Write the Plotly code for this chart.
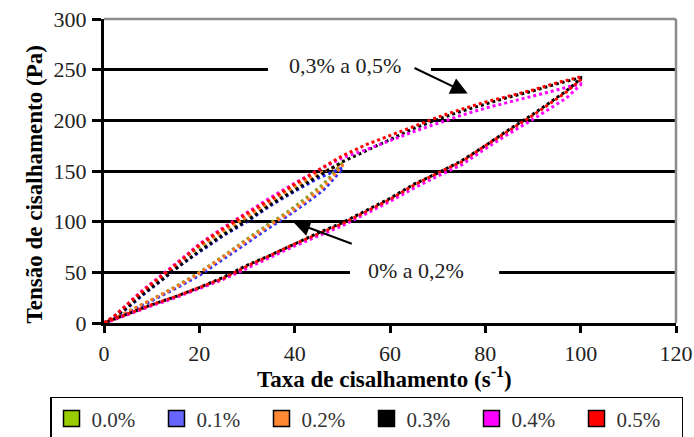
import plotly.graph_objects as go

# ---- data ----
series_names = ["0.0%", "0.1%", "0.2%", "0.3%", "0.4%", "0.5%"]
line_colors = ["#8f9f2a", "#2a2aff", "#ff7722", "#000000", "#ff00ff", "#ff0000"]
legend_colors = ["#99cc00", "#6666ff", "#ff8833", "#000000", "#ff00ff", "#ff0000"]

# low-concentration group (0% to 0.2%): ramp to 50 s^-1
shear_up_low = [0, 2, 5, 8, 12, 16, 20, 25, 30, 35, 40, 45, 50]
shear_down_low = [50, 46, 42, 38, 34, 30, 25, 20, 15, 10, 5, 2, 0]

stress_up_00 = [0, 6, 17, 29, 45, 61, 75, 90, 104, 119, 134, 147, 158]
stress_down_00 = [158, 137, 122, 108, 96, 83, 66, 50, 36, 23, 11, 4, 0]
stress_up_01 = [0, 5, 15, 27, 42, 57, 70, 86, 100, 116, 130, 143, 153]
stress_down_01 = [152, 131, 117, 104, 92, 79, 63, 47, 34, 22, 10, 4, 0]
stress_up_02 = [0, 6, 17, 30, 46, 62, 76, 91, 105, 120, 135, 147, 157]
stress_down_02 = [155, 134, 119, 106, 94, 81, 65, 49, 35, 23, 11, 4, 0]

# high-concentration group (0.3% to 0.5%): ramp to 100 s^-1
shear_up_high = [0, 2, 5, 8, 12, 16, 20, 25, 30, 35, 40, 45, 50, 55, 60, 65, 70, 75, 80, 85, 90, 95, 100]
shear_down_high = [100, 97, 94, 90, 85, 80, 75, 70, 65, 60, 55, 50, 45, 40, 35, 30, 25, 20, 15, 10, 5, 2, 0]

stress_up_03 = [0, 5, 16, 28, 42, 57, 71, 87, 101, 117, 131, 145, 159, 170, 181, 192, 201, 209, 216, 223, 229, 236, 242]
stress_down_03 = [241, 229, 219, 206, 191, 175, 160, 148, 137, 123, 111, 99, 89, 78, 67, 57, 45, 35, 26, 18, 9, 3, 0]
stress_up_04 = [0, 6, 19, 32, 47, 62, 78, 94, 109, 124, 138, 151, 163, 171, 180, 189, 197, 205, 212, 218, 224, 230, 236]
stress_down_04 = [235, 222, 213, 201, 187, 172, 156, 145, 133, 120, 108, 96, 86, 76, 65, 54, 43, 34, 25, 17, 8, 3, 0]
stress_up_05 = [0, 6, 19, 31, 46, 61, 77, 93, 108, 122, 137, 151, 165, 176, 185, 194, 203, 211, 218, 224, 230, 237, 243]
stress_down_05 = [240, 228, 218, 205, 190, 175, 159, 148, 136, 122, 110, 98, 88, 78, 67, 56, 44, 35, 26, 18, 9, 3, 0]

x_ticks = [0, 20, 40, 60, 80, 100, 120]
y_ticks = [0, 50, 100, 150, 200, 250, 300]

label_high = "0,3% a 0,5%"
label_low = "0% a 0,2%"
x_title = "Taxa de cisalhamento (s<sup>-1</sup>)"
y_title = "Tensão de cisalhamento (Pa)"

series_x = [
    shear_up_low + shear_down_low,
    shear_up_low + shear_down_low,
    shear_up_low + shear_down_low,
    shear_up_high + shear_down_high,
    shear_up_high + shear_down_high,
    shear_up_high + shear_down_high,
]
series_y = [
    stress_up_00 + stress_down_00,
    stress_up_01 + stress_down_01,
    stress_up_02 + stress_down_02,
    stress_up_03 + stress_down_03,
    stress_up_04 + stress_down_04,
    stress_up_05 + stress_down_05,
]

SERIF = "Liberation Serif"

fig = go.Figure()
for name, xs, ys, c in zip(series_names, series_x, series_y, line_colors):
    fig.add_trace(go.Scatter(x=xs, y=ys, mode="lines", name=name, showlegend=False,
                             line=dict(color=c, width=3, dash="3px,3px"), hoverinfo="skip"))
for name, c in zip(series_names, legend_colors):
    fig.add_trace(go.Scatter(x=[None], y=[None], mode="markers", name=name,
                             marker=dict(symbol="square", size=16, color=c,
                                         line=dict(color="black", width=1.5))))

fig.update_layout(
    width=694, height=437,
    margin=dict(l=104, r=18, t=19, b=114, autoexpand=False),
    plot_bgcolor="white", paper_bgcolor="white",
    font=dict(family=SERIF, color="#222"),
    showlegend=True,
    legend=dict(orientation="h", x=-0.0944, y=-0.243, xanchor="left", yanchor="top",
                bordercolor="black", borderwidth=1.5, bgcolor="white",
                font=dict(family=SERIF, size=21, color="#333"),
                entrywidth=60, entrywidthmode="pixels"),
)
fig.update_xaxes(range=[0, 120], tickvals=x_ticks, ticks="outside", ticklen=7, tickwidth=2.5,
                 tickcolor="black", showline=True, linecolor="black", linewidth=3,
                 showgrid=False, zeroline=False, tickfont=dict(family=SERIF, size=22, color="#222"),
                 ticklabelstandoff=2)
fig.update_yaxes(range=[0, 300], tickvals=y_ticks, ticks="outside", ticklen=9, tickwidth=2.5,
                 tickcolor="black", showline=True, linecolor="black", linewidth=3,
                 showgrid=True, gridcolor="black", gridwidth=2.5, zeroline=False,
                 tickfont=dict(family=SERIF, size=22, color="#222"), ticklabelstandoff=1)

# frame: grey top and right edges
fig.add_shape(type="line", xref="paper", yref="paper", x0=0, x1=1, y0=1, y1=1,
              line=dict(color="#8c8c8c", width=2.5), layer="above")
fig.add_shape(type="line", xref="paper", yref="paper", x0=1, x1=1, y0=0, y1=1,
              line=dict(color="#8c8c8c", width=2.5), layer="above")
# white gaps in grid lines behind the labels
fig.add_shape(type="rect", x0=34.4, x1=68.6, y0=244, y1=256, fillcolor="white",
              line=dict(width=0), layer="between")
fig.add_shape(type="rect", x0=51.6, x1=82.9, y0=44, y1=56, fillcolor="white",
              line=dict(width=0), layer="between")

fig.add_annotation(x=50.5, y=254, text=label_high, showarrow=False,
                   font=dict(family=SERIF, size=22, color="#222"))
fig.add_annotation(x=65.5, y=52, text=label_low, showarrow=False,
                   font=dict(family=SERIF, size=22, color="#222"))
fig.add_annotation(x=76.3, y=226.4, ax=-54.7, ay=-26.3, text="", showarrow=True,
                   arrowhead=2, arrowsize=1.7, arrowwidth=2, arrowcolor="black")
fig.add_annotation(x=39.7, y=99.7, ax=60, ay=22.3, text="", showarrow=True,
                   arrowhead=2, arrowsize=1.7, arrowwidth=2, arrowcolor="black")
fig.add_annotation(xref="paper", yref="paper", x=-0.147, y=0.457, text="<b>" + y_title + "</b>",
                   textangle=-90, showarrow=False, font=dict(family=SERIF, size=23, color="black"))
fig.add_annotation(xref="paper", yref="paper", x=0.491, y=-0.235, text="<b>" + x_title + "</b>",
                   showarrow=False, font=dict(family=SERIF, size=23, color="black"))

fig.write_html("out.html")
